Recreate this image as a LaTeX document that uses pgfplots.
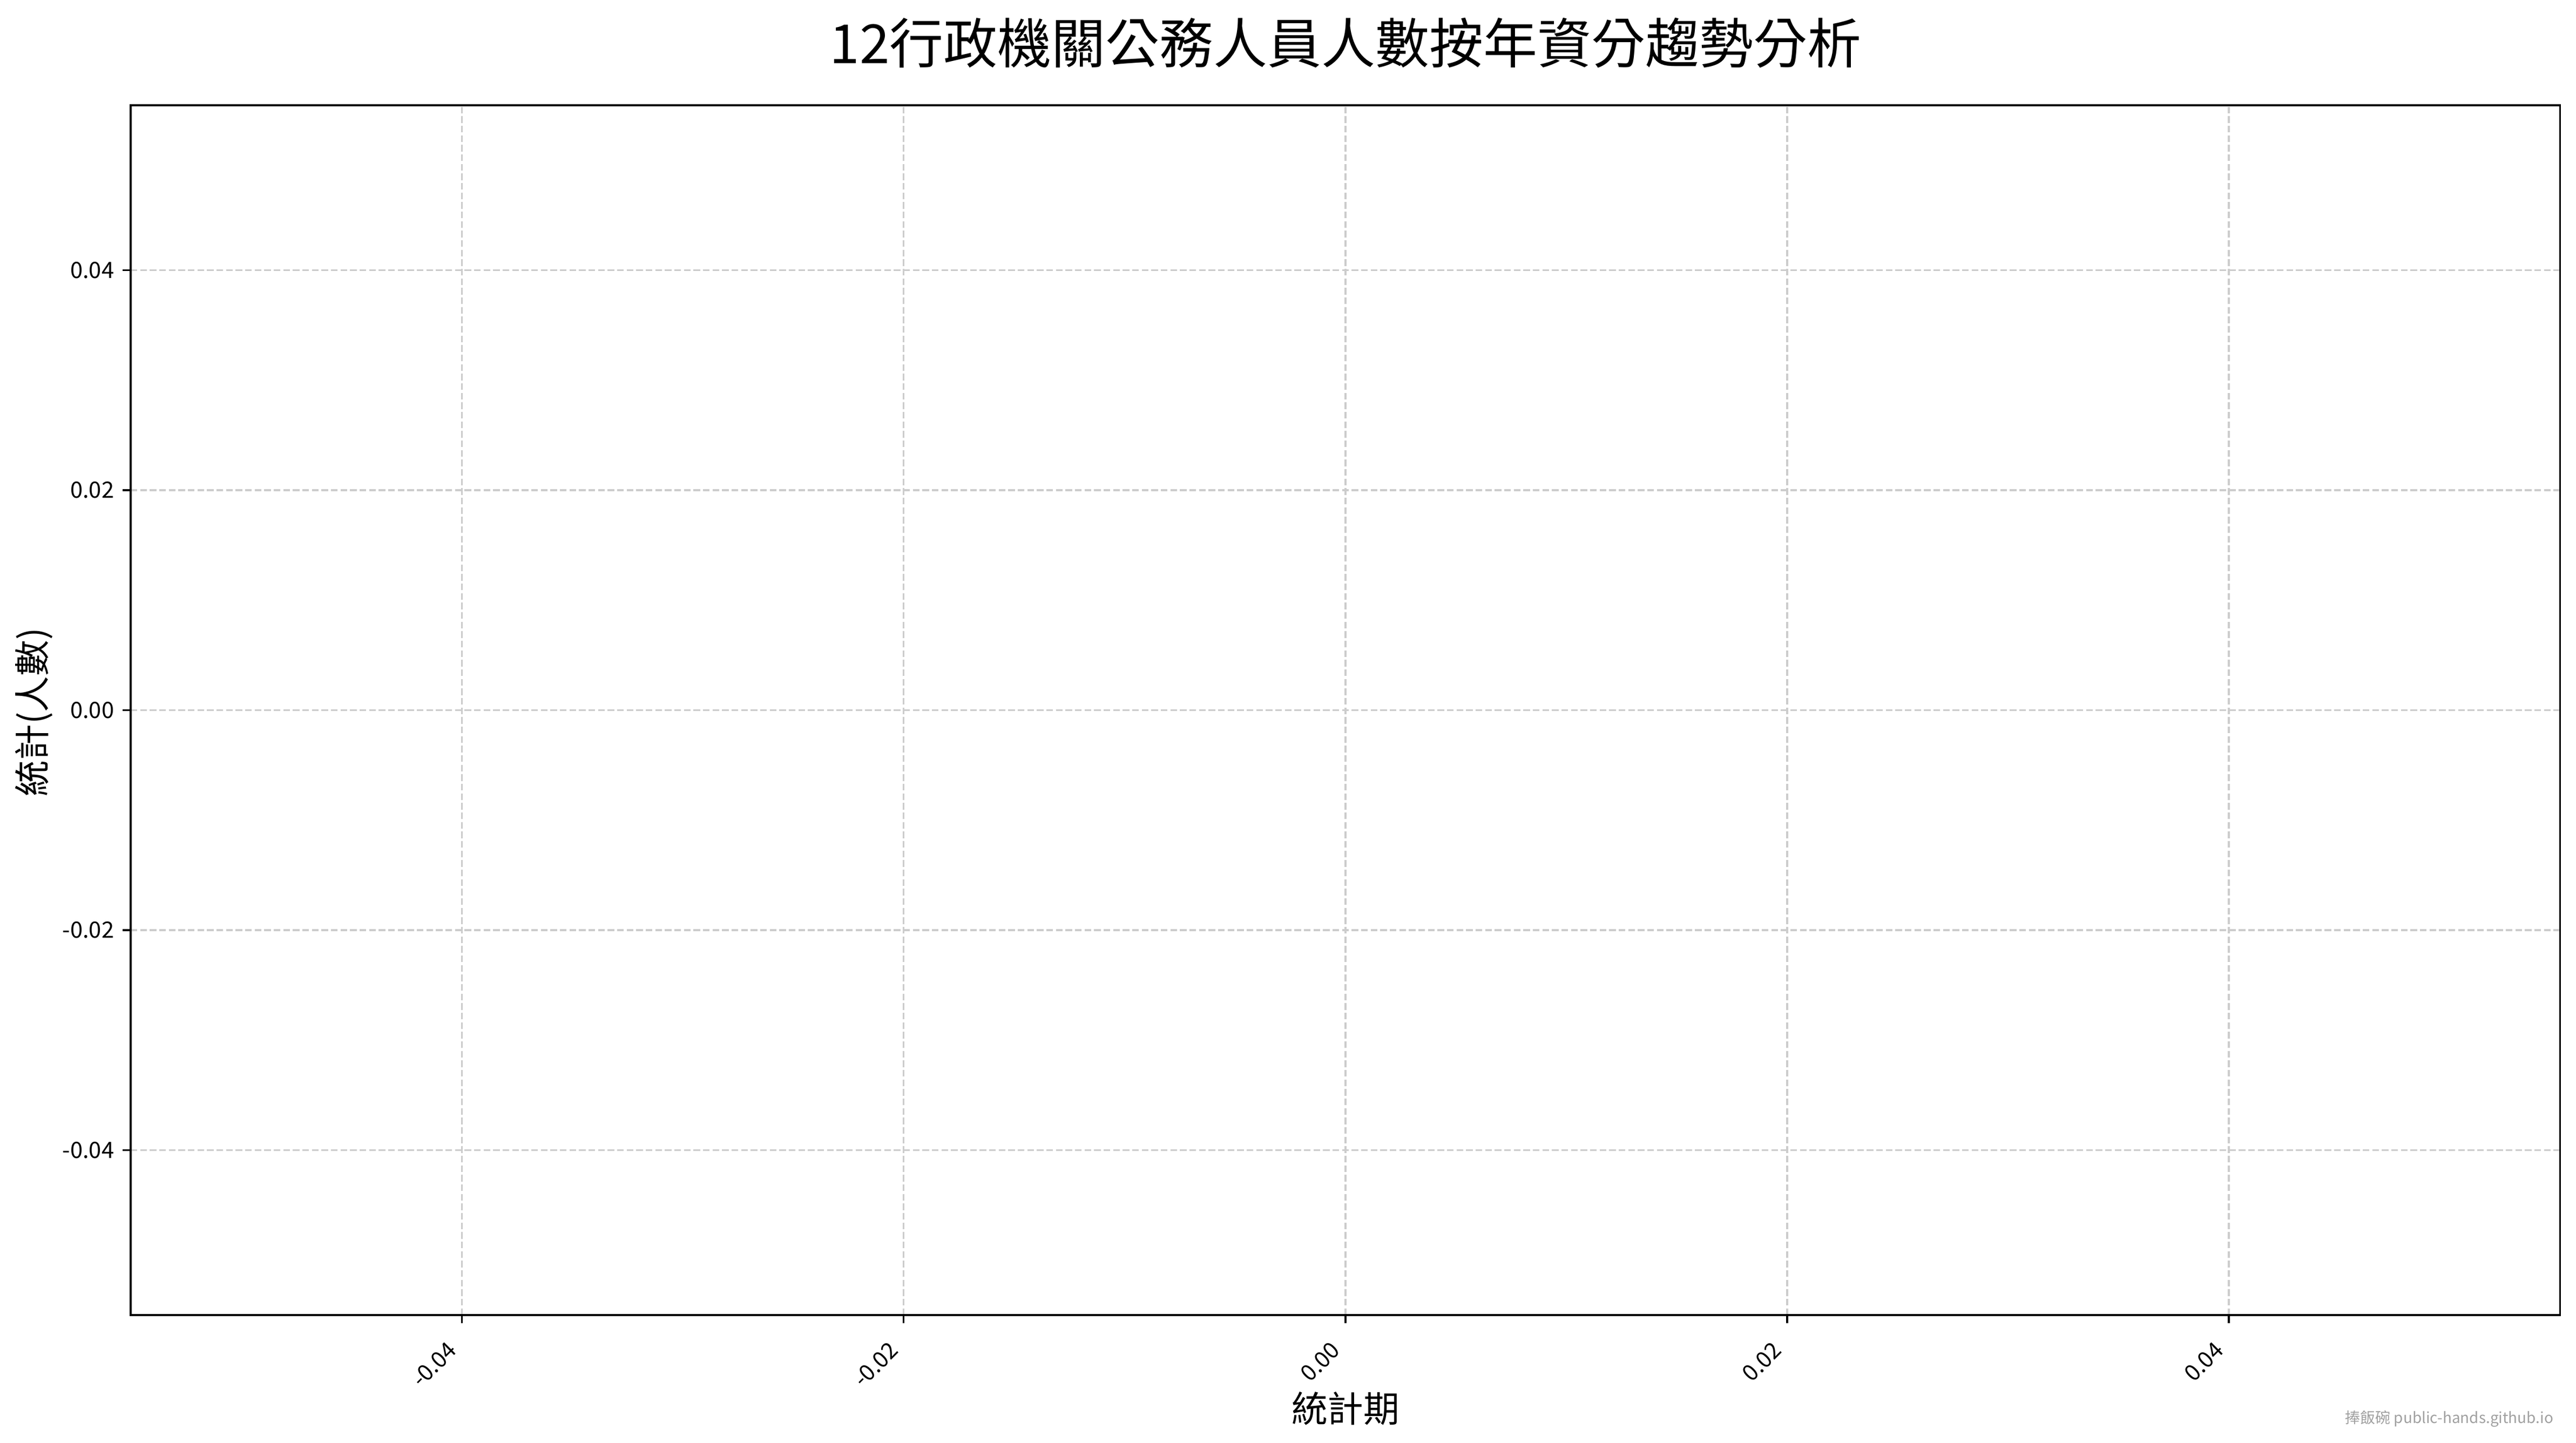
\documentclass[border=0pt]{standalone}
\usepackage{fontspec}
\setmainfont{Noto Sans CJK TC}
\usepackage{pgfplots}
\pgfplotsset{compat=1.18}

\definecolor{gridgray}{HTML}{CCCCCC}
\definecolor{markgray}{HTML}{A0A0A0}

\begin{document}
\begin{tikzpicture}
  % page = 4771 x 2673 px at 0.24pt/px; axis box origin at its lower left corner
  \useasboundingbox (-58.08pt,-56.88pt) rectangle (1086.96pt,584.64pt);
  \begin{axis}[
    at={(0pt,0pt)}, anchor=south west,
    scale only axis,
    width=1080pt, height=537.84pt,
    xmin=-0.055, xmax=0.055,
    ymin=-0.055, ymax=0.055,
    xtick={-0.04,-0.02,0,0.02,0.04},
    ytick={-0.04,-0.02,0,0.02,0.04},
    scaled ticks=false,
    /pgf/number format/.cd, fixed, fixed zerofill, precision=2, assume math mode=true,
    /pgfplots/.cd,
    xtick pos=left, ytick pos=left,
    tick align=outside,
    major tick length=3.5pt,
    every tick/.style={black, line width=0.8pt},
    axis line style={black, line width=0.8pt},
    grid=major,
    major grid style={gridgray, line width=0.8pt, dash pattern=on 2.96pt off 1.28pt},
    tick label style={font=\fontsize{10pt}{12pt}\selectfont},
    yticklabel style={anchor=east, inner sep=0pt, xshift=-3.7pt},
    % shifts first (page frame), then the turn
    xticklabel style={anchor=north east, inner sep=0pt, xshift=-7pt, yshift=-7.5pt, rotate=45},
  ]
  \end{axis}
  \node[font=\fontsize{24pt}{28pt}\selectfont] at (540pt,565.44pt) {12行政機關公務人員人數按年資分趨勢分析};
  \node[font=\fontsize{16pt}{19pt}\selectfont] at (540pt,-41.5pt) {統計期};
  \node[font=\fontsize{16pt}{19pt}\selectfont, rotate=90] at (-43pt,268pt) {統計(人數)};
  \node[font=\fontsize{6.7pt}{8pt}\selectfont, text=markgray, anchor=base east, inner sep=0pt] at (1077.1pt,-48.2pt) {捧飯碗 public-hands.github.io};
\end{tikzpicture}
\end{document}
